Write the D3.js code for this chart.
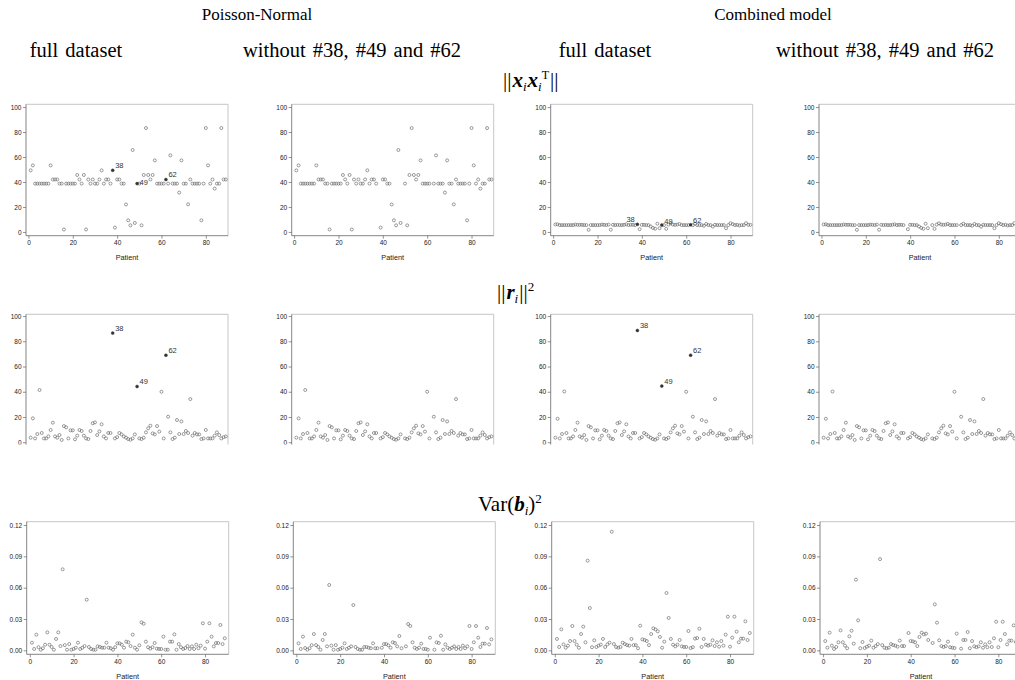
<!DOCTYPE html>
<html><head><meta charset="utf-8">
<script src="https://cdn.jsdelivr.net/npm/d3@7"></script>
<style>
body{margin:0;background:#fff;}
svg{display:block;}
</style></head><body>
<svg id="chart" width="1015" height="680"></svg>
<script>
// ---------------- DATA ----------------
const patientIds = [1,2,3,4,5,6,7,8,9,10,11,12,13,14,15,16,17,18,19,20,21,22,23,24,25,26,27,28,29,30,
  31,32,33,34,35,36,37,38,39,40,41,42,43,44,45,46,47,48,49,50,51,52,53,54,55,56,57,58,59,60,
  61,62,63,64,65,66,67,68,69,70,71,72,73,74,75,76,77,78,79,80,81,82,83,84,85,86,87,88,89];
const outlierIds = [38, 49, 62];

const xxtPoissonNormal = [49.3,53.3,38.7,38.7,38.7,38.7,38.7,38.7,38.7,53.3,
  42,42,42,38.7,38.7,2,38.7,38.7,38.7,38.7,
  38.7,45.6,42,38.7,45.6,2,42,38.7,42,38.7,
  38.7,42,49.3,38.7,42,42,38.7,49.3,3.5,42,
  42,38.7,38.7,22,9.3,5.3,65.6,7.2,38.7,38.7,
  5.3,45.6,83.2,45.6,42,45.6,57.3,38.7,38.7,38.7,
  38.7,42,38.7,61.3,38.7,38.7,38.7,31.5,57.3,38.7,
  38.7,22.1,42,38.7,38.7,38.7,38.7,9.3,38.7,83.2,
  53.3,38.7,42,34.7,38.7,38.7,83.2,42,42];
const xxtCombined = [6.0,6.1,5.5,5.5,5.5,5.5,5.5,5.5,5.5,5.9,
  5.7,5.7,5.7,5.5,5.5,1.7,5.5,5.5,5.5,5.5,
  5.5,5.9,5.7,5.5,5.9,1.8,5.7,5.5,5.7,5.5,
  5.5,5.7,6.1,5.5,5.7,5.7,5.5,6.1,2.2,5.7,
  5.7,5.5,5.5,4.4,3.2,2.6,6.6,3.0,5.5,5.5,
  2.5,5.9,6.9,5.9,5.7,5.9,6.4,5.5,5.5,5.5,
  5.5,5.7,5.5,6.6,5.5,5.5,5.5,5.0,6.4,5.5,
  5.5,4.3,5.7,5.5,5.5,5.5,5.5,3.0,5.5,7.0,
  6.2,5.5,5.7,5.2,5.5,5.5,7.0,5.7,5.7];

const rPoissonNormal = [3.6,18.9,3,6.5,41.4,7.3,3,3,4.6,9.7,
  15.5,4.6,3.6,5.7,1.8,12.8,11.8,3,9.4,9.4,
  2.3,5.2,9.7,8.9,5.2,3,2.5,8.9,15,15.7,
  5.7,8.6,14.2,4.6,3,7.3,7.3,86.5,3,4,
  7.3,6.2,4.6,3.6,2.5,2,3,6.2,44.2,3,
  2.5,3.6,7.8,11,13.1,7,6.2,12.8,8.4,40,
  3,69,20.2,7.8,2.5,3.6,17.6,6.5,16.5,6.5,
  8.9,7.3,34.2,5.2,7.3,6.2,6.2,2.5,3,9.7,
  3,3,3,5.2,7.8,5.7,3,4,4.6];
const rCombined = [3.6,18.6,3,6.5,40.2,7.3,3,3,4.6,9.7,
  15.5,4.6,3.6,5.7,1.8,12.8,11.8,3,9.4,9.4,
  2.3,5.2,9.7,8.9,5.2,3,2.5,8.9,15,15.7,
  5.7,8.6,14.2,4.6,3,7.3,7.3,88.6,3,4,
  7.3,6.2,4.6,3.6,2.5,2,3,6.2,44.5,3,
  2.5,3.6,7.8,11,13.1,7,6.2,12.8,8.4,40,
  3,69,20.2,7.8,2.5,3.6,17.6,6.5,16.5,6.5,
  8.9,7.3,34.2,5.2,7.3,6.2,6.2,2.5,3,9.7,
  3,3,3,5.2,7.8,5.7,3,4,4.6];

const varPoissonNormalFull = [.0073,.0013,.015,.003,.0006,.002,.0054,.0172,.0054,.0032,
  .0006,.0109,.0172,.0041,.0776,.005,.0006,.006,.0006,.0013,
  .0025,.0073,.0013,.0025,.0041,.0485,.0032,.0013,.0006,.0006,
  .0038,.0032,.0025,.0025,.0073,.0025,.002,.0006,.003,.0067,
  .0067,.0054,.0025,.0083,.0077,.0041,.015,.0025,.0006,.0048,
  .0268,.0255,.0083,.003,.0016,.003,.007,.0016,.0013,.0013,
  .0131,.0006,.0006,.0083,.0083,.0153,.0006,.006,.003,.0013,
  .0022,.0041,.0013,.0038,.0013,.0054,.002,.0045,.0259,.0016,
  .0083,.0259,.0131,.0038,.007,.007,.0243,.006,.0115];
const varPoissonNormalWithout = [.0067,.0013,.0131,.0022,.0006,.002,.005,.0156,.005,.0032,
  .0006,.0099,.0156,.0038,.0626,.0045,.0006,.005,.0006,.0013,
  .0025,.0067,.0013,.0025,.0038,.0434,.0032,.0013,.0006,.0006,
  .0032,.0032,.0025,.002,.0067,.002,.002,null,.0025,.006,
  .006,.0048,.0025,.0077,.007,.0038,.0137,.002,null,.0038,
  .0252,.0233,.0077,.0025,.0013,.0025,.0064,.0013,.0013,.0006,
  .0121,null,.0006,.0077,.007,.014,.0006,.0057,.0025,.0013,
  .0025,.0038,.0013,.0032,.0013,.0045,.002,.0038,.0233,.0013,
  .0077,.0233,.0121,.0032,.0064,.0064,.0214,.0057,.0105];
const varCombinedFull = [.0109,.0032,.0201,.0057,.0025,.0045,.0089,.0233,.0089,.0054,
  .0025,.0156,.0227,.0077,.0859,.0405,.003,.0096,.0032,.0045,
  .0054,.0109,.0032,.0057,.0073,.1136,.006,.0032,.0025,.0032,
  .0073,.006,.005,.0045,.0109,.005,.005,.002,.0236,.0105,
  .0099,.0089,.005,.0156,.0211,.0201,.0182,.0128,.0025,.0083,
  .0549,.031,.0109,.0054,.0038,.0054,.0099,.0038,.0032,.0032,
  .0185,.0022,.003,.0112,.0118,.0207,.0032,.0109,.0054,.0045,
  .0054,.0096,.0041,.0077,.0035,.0089,.0045,.015,.0322,.0035,
  .0121,.0322,.0179,.0077,.0112,.0112,.0278,.0099,.0166];
const varCombinedWithout = [.0089,.0025,.0169,.0045,.0013,.0032,.0077,.0191,.0077,.0045,
  .002,.0134,.0188,.0064,.0677,.0287,.002,.008,.0022,.0035,
  .0045,.0093,.0025,.0041,.006,.0874,.005,.0025,.002,.0025,
  .006,.005,.0045,.0035,.0093,.0041,.0041,null,.0166,.0089,
  .0086,.0077,.0041,.0128,.0169,.0153,.016,.0099,null,.007,
  .044,.0265,.0096,.0041,.0032,.0041,.0083,.003,.0025,.0022,
  .016,null,.0016,.0099,.0099,.0175,.002,.0089,.0038,.003,
  .0038,.0077,.0025,.0057,.003,.0077,.0032,.0115,.0274,.003,
  .0099,.0274,.0156,.0057,.0093,.0093,.0239,.008,.013];

const xTicks = [0, 20, 40, 60, 80];
const yTicksNorm = [0, 20, 40, 60, 80, 100];
const yTicksVar = [0, 0.03, 0.06, 0.09, 0.12];
const groupTitles = ["Poisson-Normal", "Combined model"];
const columnTitles = ["full dataset", "without #38, #49 and #62", "full dataset", "without #38, #49 and #62"];
const xLabel = "Patient";

// ---------------- LAYOUT ----------------
const svg = d3.select("#chart");
const serif = "'Liberation Serif','Times New Roman',serif";
const sans = "'Liberation Sans',Arial,sans-serif";

// group titles
[[257, 0], [773, 1]].forEach(([cx, i]) => {
  svg.append("text").attr("x", cx).attr("y", 20).attr("text-anchor", "middle")
    .attr("font-family", serif).attr("font-size", 17).attr("fill", "#000").text(groupTitles[i]);
});
[76, 352, 605, 885].forEach((cx, i) => {
  svg.append("text").attr("x", cx).attr("y", 56.5).attr("text-anchor", "middle")
    .attr("font-family", serif).attr("font-size", 20.5).attr("word-spacing", 2).attr("fill", "#000").text(columnTitles[i]);
});

// row titles (math)
function mathTitle(x, y, parts) {
  const t = svg.append("text").attr("x", x).attr("y", y).attr("font-family", serif)
    .attr("font-size", 21).attr("fill", "#000");
  parts.forEach(p => {
    const s = t.append("tspan").text(p.t);
    if (p.bi) s.attr("font-weight", "bold").attr("font-style", "italic");
    if (p.it) s.attr("font-style", "italic");
    if (p.fs) s.attr("font-size", p.fs);
    if (p.dx != null) s.attr("dx", p.dx);
    if (p.dy != null) s.attr("dy", p.dy);
  });
}
mathTitle(503, 87, [
  {t: "||"}, {t: "x", bi: true, dx: 1}, {t: "i", it: true, fs: 13, dy: 4},
  {t: "x", bi: true, dy: -4, dx: 1}, {t: "i", it: true, fs: 13, dy: 4},
  {t: "T", fs: 12, dy: -12, dx: 0}, {t: "||", dy: 8, dx: 1}
]);
mathTitle(497, 299, [
  {t: "||"}, {t: "r", bi: true, dx: 1}, {t: "i", it: true, fs: 13, dy: 4},
  {t: "||", dy: -4, dx: 1}, {t: "2", fs: 13, dy: -8}
]);
mathTitle(478, 511, [
  {t: "Var("}, {t: "b", bi: true}, {t: "i", it: true, fs: 13, dy: 4},
  {t: ")", dy: -4}, {t: "2", fs: 13, dy: -8}
]);

const rows = [
  {top: 104.3, bottom: 235.7, yDomain: [-3, 102.2], xDomain: [-1.1, 90], ticks: yTicksNorm, fmt: d3.format("d"),
   axisX: [26, 291.7, 550.7, 819], clip: null,
   series: [xxtPoissonNormal, xxtPoissonNormal, xxtCombined, xxtCombined]},
  {top: 314.3, bottom: 446, yDomain: [-3, 101.4], xDomain: [-1.1, 90], ticks: yTicksNorm, fmt: d3.format("d"),
   axisX: [26, 291.7, 550.7, 819], clip: 444.5,
   series: [rPoissonNormal, rPoissonNormal, rCombined, rCombined]},
  {top: 521.7, bottom: 654.3, yDomain: [-0.0038, 0.1232], xDomain: [-1.4, 90.8], ticks: yTicksVar, fmt: d3.format(".2f"),
   axisX: [26.7, 293.3, 551.7, 820], clip: null,
   series: [varPoissonNormalFull, varPoissonNormalWithout, varCombinedFull, varCombinedWithout]}
];
const plotW = 202;
// label placement for highlighted points [dx, dy] per row/col
const labelPos = {
  "0-0": {38: [2.5, -2], 49: [2.5, 1.5], 62: [2.5, -2]},
  "0-2": {38: [-11, -2], 49: [2.5, -1.5], 62: [2.5, -1.5]},
  "1-0": {38: [2.5, -2], 49: [2.5, -2], 62: [2.5, -2]},
  "1-2": {38: [2.5, -2], 49: [2.5, -2], 62: [2.5, -2]}
};

const defs = svg.append("defs");
rows.forEach((row, ri) => {
  if (row.clip) {
    defs.append("clipPath").attr("id", "clip" + ri).append("rect")
      .attr("x", 0).attr("y", 0).attr("width", 1015).attr("height", row.clip);
  }
  const rowG = svg.append("g");
  if (row.clip) rowG.attr("clip-path", `url(#clip${ri})`);
  row.series.forEach((vals, ci) => {
    const x0 = row.axisX[ci];
    const xs = d3.scaleLinear().domain(row.xDomain).range([x0, x0 + plotW]);
    const ys = d3.scaleLinear().domain(row.yDomain).range([row.bottom, row.top]);
    const g = rowG.append("g");
    const without = ci === 1 || ci === 3;
    const highlight = (ri < 2) && !without;

    // frame (top & right light)
    g.append("path")
      .attr("d", `M${x0},${row.top}H${x0 + plotW}V${row.bottom}`)
      .attr("fill", "none").attr("stroke", "#b8b8b8").attr("stroke-width", 0.8);

    // y axis
    const ya = d3.axisLeft(ys).tickValues(row.ticks).tickFormat(row.fmt).tickSize(3).tickPadding(1.5);
    const yg = g.append("g").attr("transform", `translate(${x0},0)`).call(ya);
    yg.select(".domain").attr("d", `M0,${row.top}V${row.bottom}`).attr("stroke", "#666").attr("stroke-width", 0.8);
    yg.selectAll(".tick line").attr("stroke", "#666").attr("stroke-width", 0.7);
    yg.selectAll(".tick text").attr("font-family", sans).attr("font-size", 6.5).attr("fill", "#222");

    // x axis
    const xa = d3.axisBottom(xs).tickValues(xTicks).tickFormat(d3.format("d")).tickSize(3).tickPadding(2);
    const xg = g.append("g").attr("transform", `translate(0,${row.bottom})`).call(xa);
    xg.select(".domain").attr("d", `M${x0},0H${x0 + plotW}`).attr("stroke", "#666").attr("stroke-width", 0.8);
    xg.selectAll(".tick line").attr("stroke", "#666").attr("stroke-width", 0.7);
    xg.selectAll(".tick text").attr("font-family", sans).attr("font-size", 6.5).attr("fill", "#222");

    g.append("text").attr("x", x0 + plotW / 2).attr("y", row.bottom + 24.5)
      .attr("text-anchor", "middle").attr("font-family", sans).attr("font-size", 7.3).attr("fill", "#222")
      .text(xLabel);

    const pts = patientIds.map((p, i) => ({p, v: vals[i]}))
      .filter(d => d.v != null && !(without && outlierIds.includes(d.p)));
    const isHi = d => highlight && outlierIds.includes(d.p);

    g.selectAll("circle.o").data(pts.filter(d => !isHi(d))).join("circle")
      .attr("cx", d => xs(d.p)).attr("cy", d => ys(d.v)).attr("r", 1.5)
      .attr("fill", "none").attr("stroke", "#666").attr("stroke-width", 0.65);
    const hi = pts.filter(isHi);
    g.selectAll("circle.h").data(hi).join("circle")
      .attr("cx", d => xs(d.p)).attr("cy", d => ys(d.v)).attr("r", 1.5)
      .attr("fill", "#333").attr("stroke", "#333").attr("stroke-width", 0.4);
    const lp = labelPos[ri + "-" + ci] || {};
    g.selectAll("text.lab").data(hi).join("text")
      .attr("x", d => xs(d.p) + (lp[d.p] ? lp[d.p][0] : 2.5))
      .attr("y", d => ys(d.v) + (lp[d.p] ? lp[d.p][1] : -2))
      .attr("font-family", sans).attr("font-size", 7.5).attr("fill", "#333")
      .text(d => d.p);
  });
});
</script>
</body></html>
